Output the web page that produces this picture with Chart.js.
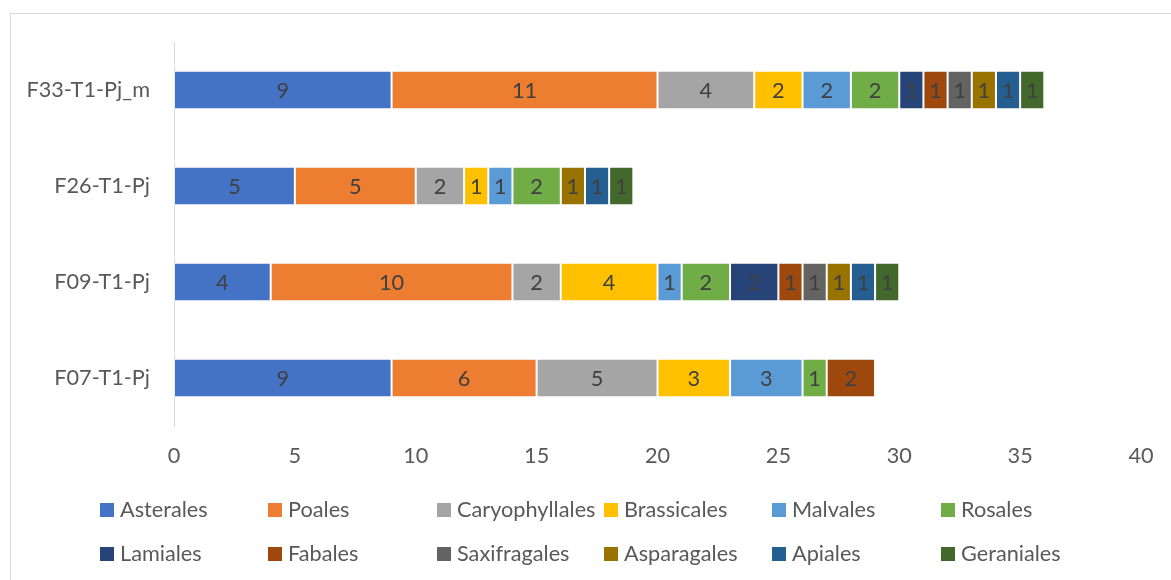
<!DOCTYPE html>
<html><head><meta charset="utf-8">
<script src="https://cdn.jsdelivr.net/npm/chart.js@4.4.0/dist/chart.umd.min.js"></script>
<style>
html,body{margin:0;padding:0;background:#fff;}
#wrap{position:relative;width:1171px;height:580px;overflow:hidden;}
#frame{position:absolute;left:10px;top:13px;width:1250px;height:650px;border:1px solid #d9d9d9;box-sizing:border-box;}
canvas{position:absolute;left:0;top:0;}
</style></head><body>
<div id="wrap"><div id="frame"></div><canvas id="c" width="1171" height="580"></canvas></div>
<script>
const categories = ['F33-T1-Pj_m', 'F26-T1-Pj', 'F09-T1-Pj', 'F07-T1-Pj'];
const seriesNames = ['Asterales','Poales','Caryophyllales','Brassicales','Malvales','Rosales','Lamiales','Fabales','Saxifragales','Asparagales','Apiales','Geraniales'];
const asterales      = [9, 5, 4, 9];
const poales         = [11, 5, 10, 6];
const caryophyllales = [4, 2, 2, 5];
const brassicales    = [2, 1, 4, 3];
const malvales       = [2, 1, 1, 3];
const rosales        = [2, 2, 2, 1];
const lamiales       = [1, 0, 2, 0];
const fabales        = [1, 0, 1, 2];
const saxifragales   = [1, 0, 1, 0];
const asparagales    = [1, 1, 1, 0];
const apiales        = [1, 1, 1, 0];
const geraniales     = [1, 1, 1, 0];
const xTicks = [0, 5, 10, 15, 20, 25, 30, 35, 40];

const seriesValues = [asterales, poales, caryophyllales, brassicales, malvales, rosales, lamiales, fabales, saxifragales, asparagales, apiales, geraniales];
const colors = ['#4472C4','#ED7D31','#A5A5A5','#FFC000','#5B9BD5','#70AD47','#264478','#9E480E','#636363','#997300','#255E91','#43682B'];

const FONT = 'Lato';
const FS = 21.7;

const labelPlugin = {
  id: 'barLabels',
  afterDatasetsDraw(chart) {
    const ctx = chart.ctx;
    ctx.save();
    ctx.font = FS + 'px ' + FONT;
    ctx.fillStyle = '#404040';
    ctx.textAlign = 'center';
    ctx.textBaseline = 'middle';
    chart.data.datasets.forEach((ds, i) => {
      const meta = chart.getDatasetMeta(i);
      meta.data.forEach((el, j) => {
        const v = ds.data[j];
        if (!v) return;
        const p = el.getProps(['x', 'y', 'base'], true);
        ctx.fillText(String(v), (p.x + p.base) / 2, p.y + 1);
      });
    });
    ctx.restore();
  }
};

const legendPlugin = {
  id: 'gridLegend',
  afterDraw(chart) {
    const ctx = chart.ctx;
    const cols = [100, 268, 437, 604, 772, 941];
    const rows = [510, 554];
    ctx.save();
    ctx.font = FS + 'px ' + FONT;
    ctx.textAlign = 'left';
    ctx.textBaseline = 'middle';
    chart.data.datasets.forEach((ds, i) => {
      const cx = cols[i % 6], cy = rows[Math.floor(i / 6)];
      ctx.fillStyle = ds.backgroundColor;
      ctx.fillRect(cx, cy - 7, 14, 14);
      ctx.fillStyle = '#595959';
      ctx.fillText(ds.label, cx + 20, cy);
    });
    ctx.restore();
  }
};

new Chart(document.getElementById('c'), {
  type: 'bar',
  data: {
    labels: categories,
    datasets: seriesNames.map((n, i) => ({
      label: n,
      data: seriesValues[i],
      backgroundColor: colors[i],
      borderColor: 'rgba(255,255,255,0.45)',
      borderWidth: 1,
      borderSkipped: false,
      categoryPercentage: 1,
      barPercentage: 0.4
    }))
  },
  options: {
    indexAxis: 'y',
    responsive: false,
    animation: false,
    devicePixelRatio: 1,
    layout: { padding: { left: 0, right: 30, top: 42, bottom: 0 } },
    plugins: { legend: { display: false }, tooltip: { enabled: false } },
    scales: {
      x: {
        stacked: true,
        min: 0, max: 40,
        afterBuildTicks(s) { s.ticks = xTicks.map(v => ({ value: v })); },
        afterFit(s) { s.height = 154; },
        grid: { display: false, drawTicks: false },
        border: { display: false },
        ticks: { color: '#595959', font: { family: FONT, size: FS }, padding: 17 }
      },
      y: {
        stacked: true,
        afterFit(s) { s.width = 174; },
        grid: { display: false, drawTicks: false },
        border: { display: true, color: '#d9d9d9', width: 1 },
        ticks: { color: '#595959', font: { family: FONT, size: FS }, padding: 24 }
      }
    }
  },
  plugins: [labelPlugin, legendPlugin]
});
</script>
</body></html>
